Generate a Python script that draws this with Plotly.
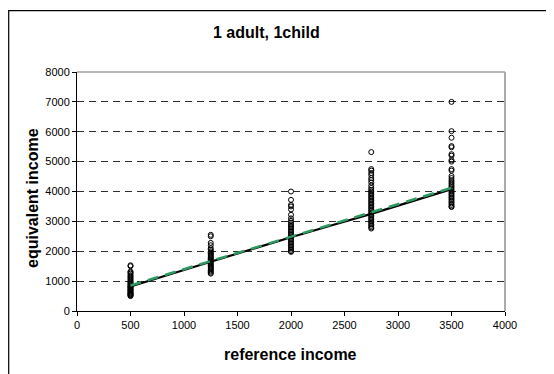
"""Equivalent vs reference income scatter, 1 adult 1 child."""

import plotly.graph_objects as go

# observed equivalent incomes, grouped by reference income
ref_levels = [500, 1250, 2000, 2750, 3500]

eq_500 = [1530, 1500, 1320, 1290, 1250, 1200, 1160, 1120, 1080, 1040, 1000, 970,
          940, 910, 880, 850, 820, 800, 780, 750, 720, 700, 680, 650, 620, 600,
          580, 560, 540, 520, 500]
eq_1250 = [2550, 2500, 2280, 2200, 2100, 2050, 2000, 1960, 1920, 1880, 1840,
           1800, 1760, 1720, 1680, 1640, 1600, 1560, 1520, 1480, 1440, 1400,
           1360, 1320, 1280, 1250]
eq_2000 = [4000, 3720, 3550, 3500, 3400, 3220, 3100, 3020, 2960, 2900, 2850,
           2800, 2750, 2700, 2650, 2600, 2550, 2500, 2450, 2400, 2350, 2300,
           2250, 2200, 2150, 2100, 2050, 2000, 1980]
eq_2750 = [5320, 4750, 4700, 4620, 4550, 4450, 4380, 4300, 4200, 4120, 4050,
           4000, 3950, 3900, 3850, 3800, 3750, 3700, 3650, 3600, 3550, 3500,
           3450, 3400, 3350, 3300, 3250, 3200, 3150, 3100, 3050, 3000, 2950,
           2900, 2850, 2800, 2760]
eq_3500 = [7000, 6020, 5800, 5520, 5480, 5250, 5200, 5050, 5000, 4750, 4700,
           4520, 4450, 4380, 4320, 4260, 4200, 4150, 4100, 4050, 4000, 3950,
           3900, 3850, 3800, 3750, 3700, 3650, 3600, 3550, 3500, 3480]

groups = [eq_500, eq_1250, eq_2000, eq_2750, eq_3500]

# fitted curves
fit_x = [500, 1250, 2000, 2750, 3500]
fit_black = [820, 1650, 2470, 3250, 4080]
lin_x = [500, 3500]
lin_green = [855, 4120]

x_ticks = [0, 500, 1000, 1500, 2000, 2500, 3000, 3500, 4000]
y_ticks = [0, 1000, 2000, 3000, 4000, 5000, 6000, 7000, 8000]

FONT = "Liberation Sans, Arial, sans-serif"

# page body has an 8px margin, so the layout is shifted up/left by that much
L, T, W, H = 69, 64, 428, 239

sx, sy = [], []
for lvl, vals in zip(ref_levels, groups):
    sx += [lvl] * len(vals)
    sy += vals

fig = go.Figure()
fig.add_trace(go.Scatter(
    x=sx, y=sy, mode="markers",
    marker=dict(symbol="circle-open", size=5, color="black",
                line=dict(width=1, color="black")),
    showlegend=False, hoverinfo="skip",
))
fig.add_trace(go.Scatter(
    x=fit_x, y=fit_black, mode="lines",
    line=dict(color="black", width=2.2, shape="spline", smoothing=0.3),
    showlegend=False, hoverinfo="skip",
))
fig.add_trace(go.Scatter(
    x=lin_x, y=lin_green, mode="lines",
    line=dict(color="#2e9a62", width=2.5, dash="11px,7px"),
    showlegend=False, hoverinfo="skip",
))


def px(x):
    return (x - L) / W


def py(y):
    return (T + H - y) / H


# plot area border (grey right/top) and outer chart frame
fig.add_shape(type="line", xref="paper", yref="paper", x0=1, x1=1, y0=0, y1=1,
              line=dict(color="#909090", width=1.5), layer="below")
fig.add_shape(type="line", xref="paper", yref="paper", x0=0, x1=1, y0=1, y1=1,
              line=dict(color="#a0a0a0", width=1.5), layer="below")
fig.add_shape(type="rect", xref="paper", yref="paper",
              x0=px(0.7), x1=1.3, y0=-0.5, y1=py(2.7),
              line=dict(color="black", width=1.2), layer="below")

title_font = dict(family=FONT, size=16, color="black")
fig.add_annotation(text="<b>1 adult, 1child</b>", xref="paper", yref="paper",
                   x=px(258), y=py(24), showarrow=False,
                   xanchor="center", yanchor="middle", font=title_font)
fig.add_annotation(text="<b>reference income</b>", xref="paper", yref="paper",
                   x=px(282), y=py(346), showarrow=False,
                   xanchor="center", yanchor="middle", font=title_font)
fig.add_annotation(text="<b>equivalent income</b>", xref="paper", yref="paper",
                   x=px(24), y=py(190), showarrow=False, textangle=-90,
                   xanchor="center", yanchor="middle", font=title_font)

fig.update_layout(
    width=554, height=374,
    margin=dict(l=L, r=554 - L - W, t=T, b=374 - T - H),
    paper_bgcolor="white", plot_bgcolor="white",
    font=dict(family=FONT, size=11, color="black"),
    xaxis=dict(
        range=[0, 4000], tickvals=x_ticks, showgrid=False, zeroline=False,
        showline=True, linecolor="black", linewidth=1,
        ticks="outside", ticklen=4, tickcolor="black", automargin=False,
    ),
    yaxis=dict(
        range=[0, 8000], tickvals=y_ticks, zeroline=False,
        showgrid=True, gridcolor="#303030", gridwidth=1, griddash="7px,5px",
        showline=True, linecolor="black", linewidth=1,
        ticks="outside", ticklen=4, tickcolor="black", automargin=False,
    ),
)

fig.write_html("out.html")
